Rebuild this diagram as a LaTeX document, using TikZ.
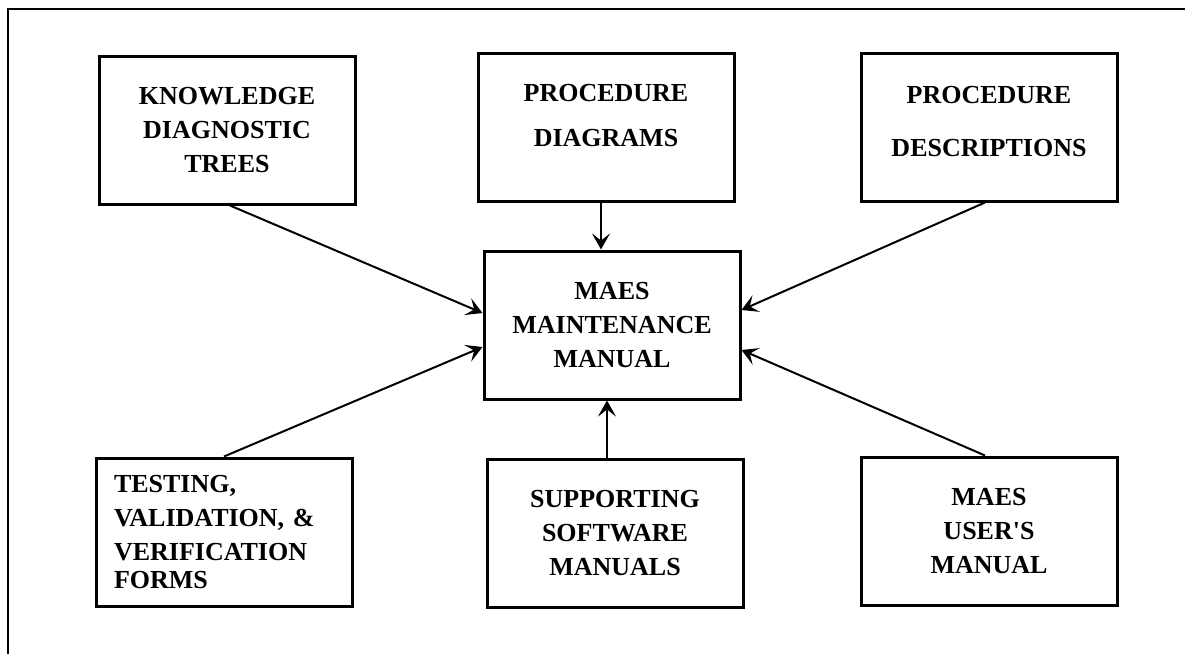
\documentclass[tikz,border=0pt]{standalone}
\usepackage{fontspec}
\setmainfont{Liberation Serif}
\usepackage{tikz}
\usetikzlibrary{positioning,calc,arrows.meta}

\tikzset{
    docbox/.style={draw, line width=1.5pt, minimum width=128pt, minimum height=74pt,
        inner sep=0pt, align=center, font=\bfseries\fontsize{13}{17}\selectfont},
    feed/.style={-{Stealth[length=8pt,width=9pt,inset=3.5pt]}, line width=1pt}
}

\begin{document}
\begin{tikzpicture}[x=0.5pt, y=-0.5pt]
    \useasboundingbox (0,0) rectangle (1185,654);
    \draw[line width=1pt] (8,654) -- (8,9) -- (1185,9); % outer frame

    \node[docbox] (main) at (612,325) {MAES\\MAINTENANCE\\MANUAL};
    \node[docbox] (trees) at (227,130) {KNOWLEDGE\\DIAGNOSTIC\\TREES};
    \node[docbox, text depth=12pt] (diagrams) at (606,127) {PROCEDURE\\[5.5pt]DIAGRAMS};
    \node[docbox, text depth=5.5pt] (descr) at (989,127) {PROCEDURE\\[9.5pt]DESCRIPTIONS};
    \node[docbox, align=left, text width=110pt] (forms) at (224,532)
        {TESTING,\\VALIDATION, \&\\VERIFICATION\\[-3pt]FORMS};
    \node[docbox] (software) at (615,533) {SUPPORTING\\SOFTWARE\\MANUALS};
    \node[docbox] (users) at (989,531) {MAES\\USER\textquotesingle S\\MANUAL};

    \draw[feed] ([xshift=1.5pt]trees.south) -- ([yshift=6pt]main.west);
    \draw[feed] ([xshift=-2.5pt]diagrams.south) -- ([xshift=-2.5pt]diagrams.south |- main.north);
    \draw[feed] ([xshift=-2pt]descr.south) -- ([yshift=7.5pt]main.east);
    \draw[feed] (forms.north) -- ([yshift=-11pt]main.west);
    \draw[feed] ([xshift=-4pt]software.north) -- ([xshift=-4pt]software.north |- main.south);
    \draw[feed] ([xshift=-2pt]users.north) -- ([yshift=-12.5pt]main.east);
\end{tikzpicture}
\end{document}
